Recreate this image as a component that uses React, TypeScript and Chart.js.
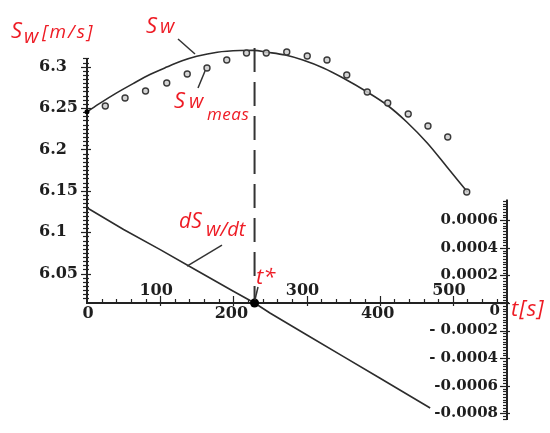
import React, { useEffect, useRef } from "react";
import { Chart, registerables } from "chart.js";

Chart.register(...registerables);

// ---- data ----
// time [s]
const swCurveT = [0, 18, 40, 63, 86, 109, 130, 150, 178, 209, 228, 246, 271, 295, 323, 350, 383, 410, 437, 465, 492, 520];
// S_w model curve [m/s]
const swCurveV = [6.2456, 6.256, 6.268, 6.2795, 6.2905, 6.2995, 6.307, 6.3125, 6.3175, 6.3195, 6.3197, 6.3175, 6.314, 6.308, 6.2984, 6.2863, 6.2694, 6.2537, 6.2332, 6.2078, 6.1788, 6.1486];

// measured S_w
const measT = [25, 52, 80, 109, 137, 164, 191, 218, 245, 273, 301, 328, 355, 383, 411, 439, 466, 493, 519];
const measV = [6.2525, 6.2621, 6.2706, 6.2803, 6.2911, 6.2984, 6.308, 6.3165, 6.3165, 6.3177, 6.3129, 6.308, 6.2899, 6.2694, 6.2561, 6.2428, 6.2283, 6.215, 6.1486];

// dS_w/dt
const derivT = [0, 50, 100, 150, 200, 229, 250, 300, 350, 400, 469];
const derivV = [0.00069, 0.000533, 0.000387, 0.000236, 0.000085, 0, -0.0000725, -0.00023, -0.000387, -0.000544, -0.000761];

const tStar = 229;
const swAtAxis = 6.0145; // left-scale value where the t axis crosses
const dashTop = 6.3226;

// ---- tick labels ----
const xTicksBelow = [0, 200, 400];
const xTicksAbove = [100, 300, 500];
const leftTicks = [6.05, 6.1, 6.15, 6.2, 6.25, 6.3];
const leftTickLabels = ["6.05", "6.1", "6.15", "6.2", "6.25", "6.3"];
const rightTicks = [-0.0008, -0.0006, -0.0004, -0.0002, 0.0002, 0.0004, 0.0006];
const rightTickLabels = ["-0.0008", "-0.0006", "- 0.0004", "- 0.0002", "0.0002", "0.0004", "0.0006"];

const X_MIN = 0;
const X_MAX = 574;
const LEFT_AXIS_TOP = 6.31;
const RIGHT_AXIS_TOP = 0.00075;

const RED = "#ee1c25";
const INK = "#1e1e1e";
const LINE = "#2c2c2c";

const mapleAxes = {
  id: "mapleAxes",
  beforeDatasetsDraw(chart: any) {
    const { ctx, scales } = chart;
    const xs = scales.x, ys = scales.y, y1s = scales.y1;
    const X = (t: number) => xs.getPixelForValue(t);
    const Y = (v: number) => ys.getPixelForValue(v);
    const Y1 = (v: number) => y1s.getPixelForValue(v);
    const x0 = Math.round(X(X_MIN));
    const xR = Math.round(X(X_MAX));
    const yA = Math.round(Y1(0));
    const seg = (a: number, b: number, c: number, d: number) => {
      ctx.beginPath();
      ctx.moveTo(a, b);
      ctx.lineTo(c, d);
      ctx.stroke();
    };
    ctx.save();
    ctx.strokeStyle = "#222";
    ctx.lineWidth = 2;
    seg(x0, yA + 1, x0, Y(LEFT_AXIS_TOP));
    seg(x0 - 1, yA, xR + 2, yA);
    seg(xR, Y1(RIGHT_AXIS_TOP), xR, chart.chartArea.bottom);

    ctx.lineWidth = 1.2;
    // left ticks
    for (let k = 1204; k <= 1262; k++) {
      const yy = Math.round(Y(k * 0.005)) + 0.5;
      if (k % 10 === 0) seg(x0 - 6, yy, x0 + 4, yy);
      else seg(x0 - 4, yy, x0 + 2, yy);
    }
    // x ticks
    for (let t = 20; t <= 560; t += 20) {
      const xx = Math.round(X(t)) + 0.5;
      if (t % 100 === 0) seg(xx, yA - 7, xx, yA + 3);
      else seg(xx, yA - 4, xx, yA);
    }
    // right ticks
    for (let k = -42; k <= 37; k++) {
      const yy = Math.round(Y1(k * 0.00002)) + 0.5;
      if (k % 10 === 0) seg(xR - 7, yy, xR + 3, yy);
      else seg(xR - 4, yy, xR, yy);
    }

    // tick labels
    ctx.fillStyle = INK;
    ctx.textBaseline = "middle";
    ctx.font = "bold 16px 'DejaVu Serif'";
    ctx.textAlign = "left";
    leftTicks.forEach((v, i) => ctx.fillText(leftTickLabels[i], 39, Y(v)));
    ctx.textAlign = "center";
    xTicksBelow.forEach((t) => ctx.fillText(String(t), X(t) - (t === 0 ? -1 : 2), yA + 11));
    xTicksAbove.forEach((t) => ctx.fillText(String(t), X(t) - 4, yA - 12));
    ctx.font = "bold 15px 'DejaVu Serif'";
    ctx.textAlign = "right";
    rightTicks.forEach((v, i) => ctx.fillText(rightTickLabels[i], xR - 9, Y1(v)));
    ctx.fillText("0", xR - 7, yA + 8);
    ctx.restore();
  },
  afterDatasetsDraw(chart: any) {
    const { ctx, scales } = chart;
    const X = (t: number) => scales.x.getPixelForValue(t);
    const Y = (v: number) => scales.y.getPixelForValue(v);
    const Y1 = (v: number) => scales.y1.getPixelForValue(v);
    ctx.save();
    ctx.strokeStyle = "#333";
    ctx.lineWidth = 1.5;
    const seg = (a: number[], b: number[]) => {
      ctx.beginPath();
      ctx.moveTo(a[0], a[1]);
      ctx.lineTo(b[0], b[1]);
      ctx.stroke();
    };
    // leader lines (data coordinates)
    seg([X(124.4), Y(6.3334)], [X(147.6), Y(6.3153)]);
    seg([X(151.7), Y(6.2742)], [X(161.3), Y(6.2948)]);
    seg([X(184.5), Y1(0.00042)], [X(136.7), Y1(0.000268)]);
    seg([X(233.7), Y1(0.000116)], [X(229.5), Y1(0.000022)]);

    const put = (s: string, x: number, y: number, size: number, sp = 0) => {
      ctx.font = `italic ${size}px 'Open Sans'`;
      (ctx as any).letterSpacing = `${sp}px`;
      ctx.fillText(s, x, y);
    };
    ctx.fillStyle = RED;
    ctx.textAlign = "left";
    ctx.textBaseline = "alphabetic";
    // S_w [m/s]
    put("S", 11, 38, 22);
    put("w", 24, 43, 20);
    put("[m/s]", 42, 38, 19, 2);
    // S_w
    put("S", 146, 33, 22);
    put("w", 160, 33, 20);
    // S_w meas
    put("S", 174, 108, 22);
    put("w", 189, 108, 20);
    put("meas", 207, 120, 17, 0.5);
    // dS_w/dt
    put("dS", 179, 228, 21);
    put("w/dt", 206, 236, 20);
    // t*
    put("t*", 256, 284, 22);
    // t[s]
    put("t[s]", 511, 316, 22, 1);
    ctx.restore();
  },
};

export default function App() {
  const ref = useRef<HTMLCanvasElement>(null);
  useEffect(() => {
    if (!ref.current) return;
    const chart = new Chart(ref.current, {
      type: "line",
      data: {
        datasets: [
          {
            label: "t*",
            data: [{ x: tStar, y: 0 }],
            yAxisID: "y1",
            showLine: false,
            pointRadius: 4.5,
            pointBackgroundColor: "#000",
            pointBorderWidth: 0,
            clip: false,
          } as any,
          {
            label: "start",
            data: [{ x: swCurveT[0], y: swCurveV[0] }],
            yAxisID: "y",
            showLine: false,
            pointRadius: 2.5,
            pointBackgroundColor: "#000",
            pointBorderWidth: 0,
            clip: false,
          },
          {
            label: "Sw meas",
            data: measT.map((t, i) => ({ x: t, y: measV[i] })),
            yAxisID: "y",
            showLine: false,
            pointRadius: 3,
            pointBorderWidth: 1.4,
            pointBorderColor: "#3a3a3a",
            pointBackgroundColor: "rgba(205,205,205,0.85)",
            clip: false,
          },
          {
            label: "Sw",
            data: swCurveT.map((t, i) => ({ x: t, y: swCurveV[i] })),
            yAxisID: "y",
            borderColor: LINE,
            borderWidth: 1.6,
            pointRadius: 0,
            cubicInterpolationMode: "monotone",
            fill: false,
            clip: false,
          },
          {
            label: "dSw/dt",
            data: derivT.map((t, i) => ({ x: t, y: derivV[i] })),
            yAxisID: "y1",
            borderColor: LINE,
            borderWidth: 1.6,
            pointRadius: 0,
            tension: 0,
            fill: false,
            clip: false,
          },
          {
            label: "t* line",
            data: [
              { x: tStar, y: dashTop },
              { x: tStar, y: swAtAxis },
            ],
            yAxisID: "y",
            borderColor: "#333",
            borderWidth: 2,
            borderDash: [24, 10],
            pointRadius: 0,
            fill: false,
            clip: false,
          },
        ],
      },
      options: {
        responsive: false,
        animation: false,
        events: [],
        layout: { padding: { left: 87, right: 43, top: 45, bottom: 13 } },
        plugins: { legend: { display: false }, tooltip: { enabled: false } },
        scales: {
          x: { type: "linear", display: false, min: X_MIN, max: X_MAX },
          y: { type: "linear", display: false, min: 5.87316, max: 6.32617 },
          y1: { type: "linear", display: false, min: -0.000848, max: 0.00187 },
        },
      },
      plugins: [mapleAxes],
    });
    return () => chart.destroy();
  }, []);
  return (
    <div style={{ position: "absolute", left: 0, top: 0, width: 550, height: 433, background: "#fff" }}>
      <canvas ref={ref} width={550} height={433} style={{ display: "block", width: 550, height: 433 }} />
    </div>
  );
}
